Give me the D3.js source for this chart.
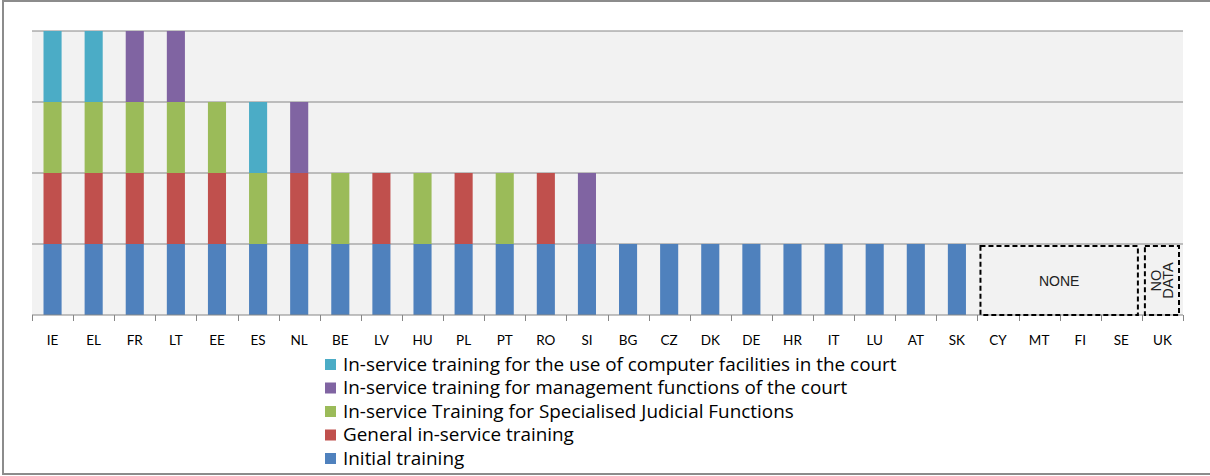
<!DOCTYPE html>
<html><head><meta charset="utf-8">
<script src="https://cdn.jsdelivr.net/npm/d3@7"></script>
<style>body{margin:0;background:#fff}svg{display:block}</style>
</head><body>
<svg id="c" width="1210" height="476"></svg>
<script>
const categories = ["IE","EL","FR","LT","EE","ES","NL","BE","LV","HU","PL","PT","RO","SI","BG","CZ","DK","DE","HR","IT","LU","AT","SK","CY","MT","FI","SE","UK"];
const seriesNames = ["Initial training","General in-service training","In-service Training for Specialised Judicial Functions","In-service training for management functions of the court","In-service training for the use of computer facilities in the court"];
const seriesColors = ["#4f81bd","#c0504d","#9bbb59","#8064a2","#4bacc6"];
const initial     = [1,1,1,1,1,1,1,1,1,1,1,1,1,1,1,1,1,1,1,1,1,1,1,0,0,0,0,0];
const general     = [1,1,1,1,1,0,1,0,1,0,1,0,1,0,0,0,0,0,0,0,0,0,0,0,0,0,0,0];
const specialised = [1,1,1,1,1,1,0,1,0,1,0,1,0,0,0,0,0,0,0,0,0,0,0,0,0,0,0,0];
const management  = [0,0,1,1,0,0,1,0,0,0,0,0,0,1,0,0,0,0,0,0,0,0,0,0,0,0,0,0];
const computer    = [1,1,0,0,0,1,0,0,0,0,0,0,0,0,0,0,0,0,0,0,0,0,0,0,0,0,0,0];
const yTicks = [0,1,2,3,4];
const noneGroup = ["CY","MT","FI","SE"];
const noDataGroup = ["UK"];

const svg = d3.select("#c");
const L = 32, R = 1183, T = 31, B = 315;
// outer frame
svg.append("rect").attr("x",3).attr("y",1).attr("width",1220).attr("height",473)
  .attr("fill","none").attr("stroke","#8c8c8c").attr("stroke-width",2);

const x = d3.scaleBand().domain(categories).range([L,R]).paddingInner(0.56).paddingOuter(0.28);
const xb = d3.scaleBand().domain(categories).range([L,R]);
const y = d3.scaleLinear().domain([0,4]).range([B,T]);

svg.append("rect").attr("x",L).attr("y",T).attr("width",R-L).attr("height",B-T).attr("fill","#f2f2f2");
svg.append("g").selectAll("line").data(yTicks.slice(1)).join("line")
  .attr("x1",L).attr("x2",R).attr("y1",d=>y(d)).attr("y2",d=>y(d))
  .attr("stroke","#868686").attr("stroke-width",1);

const seriesData = [initial, general, specialised, management, computer];
const rows = categories.map((c,i)=>{const o={cat:c}; seriesNames.forEach((s,j)=>o[s]=seriesData[j][i]); return o;});
const stack = d3.stack().keys(seriesNames)(rows);
svg.append("g").selectAll("g").data(stack).join("g").attr("fill",(d,i)=>seriesColors[i])
  .selectAll("rect").data(d=>d.filter(p=>p[1]>p[0])).join("rect")
  .attr("x",d=>x(d.data.cat)).attr("width",x.bandwidth())
  .attr("y",d=>y(d[1])).attr("height",d=>y(d[0])-y(d[1]));

// x axis
const ax = svg.append("g").attr("transform",`translate(0,${B})`);
ax.append("line").attr("x1",L).attr("x2",R).attr("stroke","#868686");
const bounds = categories.map(c=>xb(c)).concat([R]);
ax.selectAll("line.t").data(bounds).join("line").attr("class","t")
  .attr("x1",d=>Math.round(d)+0.5).attr("x2",d=>Math.round(d)+0.5).attr("y1",0).attr("y2",6).attr("stroke","#868686");
ax.selectAll("text").data(categories).join("text")
  .attr("x",d=>xb(d)+xb.bandwidth()/2).attr("y",30).attr("text-anchor","middle")
  .attr("font-family","Lato, 'Open Sans', sans-serif").attr("font-size",13.5).attr("fill","#000").text(d=>d);

// annotation boxes
function groupBox(group, label, rotated){
  const x0 = xb(group[0]) + 3, x1 = xb(group[group.length-1]) + xb.bandwidth() - 4;
  svg.append("rect").attr("x",x0).attr("y",y(1)+2).attr("width",x1-x0).attr("height",y(0)-y(1)-2)
    .attr("fill","none").attr("stroke","#000").attr("stroke-width",2).attr("stroke-dasharray","5,3");
  const cx=(x0+x1)/2, cy=(y(1)+y(0))/2+1;
  if(!rotated){
    svg.append("text").attr("x",cx).attr("y",cy+5).attr("text-anchor","middle")
      .attr("font-family","'Liberation Sans', Arial, sans-serif").attr("font-size",14).attr("fill","#222").text(label[0]);
  } else {
    const t = svg.append("text").attr("transform",`translate(${cx},${cy}) rotate(-90)`).attr("text-anchor","middle")
      .attr("font-family","'Liberation Sans', Arial, sans-serif").attr("font-size",14.5).attr("fill","#222");
    t.append("tspan").attr("x",0).attr("dy",-1).text(label[0]);
    t.append("tspan").attr("x",0).attr("dy",12).text(label[1]);
  }
}
groupBox(noneGroup,["NONE"],false);
groupBox(noDataGroup,["NO","DATA"],true);

// legend (reverse order)
const legendItems = seriesNames.map((s,i)=>({s,c:seriesColors[i]})).reverse();
const lg = svg.append("g").attr("transform","translate(325,365)");
const li = lg.selectAll("g").data(legendItems).join("g").attr("transform",(d,i)=>`translate(0,${i*23.5})`);
li.append("rect").attr("x",0).attr("y",-6).attr("width",11).attr("height",11).attr("fill",d=>d.c);
const lt = li.append("text").attr("x",18).attr("y",5.5).attr("font-family","'Open Sans', sans-serif")
  .attr("font-size",16).attr("fill","#000").text(d=>d.s);
// fit longest legend entry to the reference width (~554px)
const maxW = d3.max(lt.nodes(), n=>n.getComputedTextLength());
lt.attr("font-size", 16*554/maxW);
</script>
</body></html>
